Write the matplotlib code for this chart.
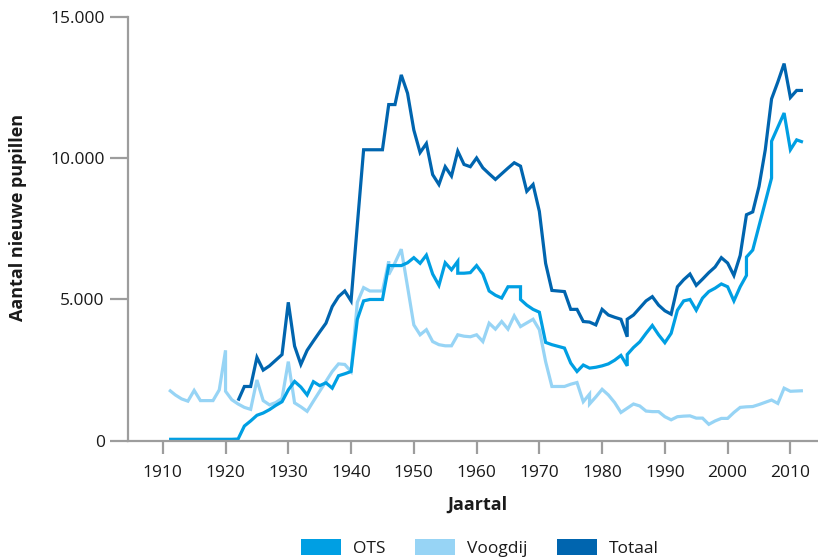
# -*- coding: utf-8 -*-

import matplotlib
matplotlib.use('Agg')
import matplotlib.pyplot as plt
from matplotlib.patches import Patch

plt.rcParams['font.family'] = ['Open Sans', 'DejaVu Sans']

# OTS (ondertoezichtstelling)
ots_years = [1911, 1912, 1913, 1914, 1915, 1916, 1917, 1918, 1919, 1920,
             1921, 1922, 1923, 1924, 1925, 1926, 1927, 1928, 1929, 1930,
             1931, 1932, 1933, 1934, 1935, 1936, 1937, 1938, 1939, 1940,
             1941, 1942, 1943, 1944, 1945, 1946, 1947, 1948, 1949, 1950,
             1951, 1952, 1953, 1954, 1955, 1956, 1957, 1957, 1958, 1959,
             1960, 1961, 1962, 1963, 1964, 1965, 1966, 1967, 1967, 1968,
             1969, 1970, 1971, 1972, 1973, 1974, 1975, 1976, 1977, 1978,
             1979, 1980, 1981, 1982, 1983, 1984, 1984, 1985, 1986, 1987,
             1988, 1989, 1990, 1991, 1992, 1993, 1994, 1995, 1996, 1997,
             1998, 1999, 2000, 2001, 2002, 2003, 2003, 2004, 2005, 2006,
             2007, 2007, 2008, 2009, 2010, 2011, 2012]
ots_values = [50, 50, 50, 50, 50, 50, 50, 50, 50, 50,
              50, 60, 520, 700, 900, 980, 1100, 1250, 1380, 1800,
              2100, 1900, 1620, 2090, 1950, 2050, 1860, 2300, 2370, 2450,
              4300, 4950, 5000, 5000, 5000, 6200, 6200, 6200, 6300, 6480,
              6280, 6570, 5900, 5500, 6300, 6050, 6350, 5930, 5930, 5950,
              6200, 5900, 5300, 5150, 5050, 5450, 5450, 5450, 5000, 4800,
              4650, 4550, 3480, 3400, 3340, 3280, 2750, 2450, 2680, 2570,
              2600, 2650, 2720, 2850, 3020, 2650, 3050, 3300, 3500, 3800,
              4080, 3750, 3470, 3800, 4620, 4950, 5000, 4620, 5050, 5280,
              5400, 5550, 5450, 4950, 5450, 5850, 6500, 6750, 7600, 8450,
              9300, 10600, 11100, 11600, 10300, 10650, 10570]

# Voogdij
voogdij_years = [1911, 1912, 1913, 1914, 1915, 1916, 1917, 1918, 1919, 1920,
                 1920, 1921, 1922, 1923, 1924, 1925, 1926, 1927, 1928, 1929,
                 1930, 1931, 1932, 1933, 1934, 1935, 1936, 1937, 1938, 1939,
                 1940, 1941, 1942, 1943, 1944, 1945, 1946, 1946, 1947, 1948,
                 1949, 1950, 1951, 1952, 1953, 1954, 1955, 1956, 1957, 1958,
                 1959, 1960, 1961, 1962, 1963, 1964, 1965, 1966, 1967, 1968,
                 1969, 1970, 1971, 1972, 1973, 1974, 1975, 1976, 1977, 1978,
                 1978, 1979, 1980, 1981, 1982, 1983, 1984, 1985, 1986, 1987,
                 1988, 1989, 1990, 1991, 1992, 1993, 1994, 1995, 1996, 1997,
                 1998, 1999, 2000, 2001, 2002, 2003, 2004, 2005, 2006, 2007,
                 2008, 2009, 2010, 2011, 2012]
voogdij_values = [1800, 1620, 1480, 1400, 1780, 1420, 1420, 1420, 1800, 3200,
                  1750, 1450, 1300, 1180, 1110, 2150, 1420, 1270, 1350, 1500,
                  2800, 1340, 1200, 1040, 1400, 1750, 2100, 2450, 2720, 2700,
                  2450, 4900, 5420, 5300, 5300, 5300, 6350, 5880, 6300, 6780,
                  5450, 4100, 3750, 3930, 3510, 3400, 3360, 3360, 3750, 3700,
                  3680, 3750, 3510, 4160, 3950, 4220, 3950, 4420, 4040, 4170,
                  4300, 3930, 2800, 1920, 1920, 1920, 2000, 2060, 1380, 1650,
                  1300, 1550, 1820, 1620, 1350, 1000, 1150, 1300, 1230, 1050,
                  1030, 1030, 850, 740, 850, 870, 880, 800, 800, 580,
                  700, 790, 790, 1000, 1180, 1200, 1210, 1280, 1360, 1440,
                  1320, 1860, 1750, 1760, 1770]

# Totaal
totaal_years = [1922, 1923, 1924, 1925, 1926, 1927, 1928, 1929, 1930, 1931,
                1932, 1933, 1934, 1935, 1936, 1937, 1938, 1939, 1940, 1941,
                1942, 1943, 1944, 1945, 1946, 1947, 1948, 1949, 1950, 1951,
                1952, 1953, 1954, 1955, 1956, 1957, 1958, 1959, 1960, 1961,
                1962, 1963, 1964, 1965, 1966, 1967, 1968, 1969, 1970, 1971,
                1972, 1973, 1974, 1975, 1976, 1977, 1978, 1979, 1980, 1981,
                1982, 1983, 1984, 1984, 1985, 1986, 1987, 1988, 1989, 1990,
                1991, 1992, 1993, 1994, 1995, 1996, 1997, 1998, 1999, 2000,
                2001, 2002, 2003, 2004, 2005, 2006, 2007, 2008, 2009, 2010,
                2011, 2012]
totaal_values = [1420, 1920, 1920, 2950, 2500, 2650, 2850, 3050, 4900, 3350,
                 2700, 3200, 3530, 3850, 4160, 4750, 5100, 5300, 4950, 7650,
                 10300, 10300, 10300, 10300, 11900, 11900, 12950, 12300, 11000, 10200,
                 10520, 9420, 9070, 9700, 9370, 10250, 9780, 9700, 10010, 9660,
                 9450, 9250, 9450, 9650, 9840, 9720, 8830, 9070, 8120, 6280,
                 5320, 5300, 5280, 4650, 4650, 4220, 4200, 4100, 4650, 4450,
                 4370, 4300, 3680, 4300, 4450, 4700, 4950, 5100, 4800, 4600,
                 4480, 5450, 5700, 5900, 5500, 5720, 5950, 6150, 6480, 6290,
                 5850, 6560, 8000, 8100, 9000, 10300, 12100, 12700, 13350, 12150,
                 12400, 12400]

x_ticks = [1910, 1920, 1930, 1940, 1950, 1960, 1970, 1980, 1990, 2000, 2010]
y_ticks = [0, 5000, 10000, 15000]
y_tick_labels = ['0', '5.000', '10.000', '15.000']

c_ots = '#009fe3'
c_voogdij = '#97d4f5'
c_totaal = '#0065af'
grey = '#9d9d9d'

fig = plt.figure(figsize=(8.18, 5.59), dpi=100)
ax = fig.add_axes([0.1568, 0.2116, 0.8432, 0.758])

line_kw = dict(linewidth=2.3, solid_joinstyle='miter', solid_capstyle='butt')
ax.plot(voogdij_years, voogdij_values, color=c_voogdij, **line_kw)
ax.plot(ots_years, ots_values, color=c_ots, **line_kw)
ax.plot(totaal_years, totaal_values, color=c_totaal, **line_kw)

ax.set_xlim(1904.5, 2014.4)
ax.set_ylim(0, 15000)
ax.set_xticks(x_ticks)
ax.set_yticks(y_ticks)
ax.set_yticklabels(y_tick_labels)

for side in ['top', 'right']:
    ax.spines[side].set_visible(False)
for side in ['left', 'bottom']:
    ax.spines[side].set_color(grey)
    ax.spines[side].set_linewidth(1.6)

ax.tick_params(axis='y', length=13, width=1.6, color=grey, pad=4,
               labelsize=12.5, labelcolor='#1a1a1a')
ax.tick_params(axis='x', length=9.5, width=1.6, color=grey, pad=8,
               labelsize=12.5, labelcolor='#1a1a1a')

# axis titles
fig.text(18 / 818, 1 - 217 / 559, 'Aantal nieuwe pupillen', rotation=90,
         ha='center', va='center', fontsize=13, fontweight='bold', color='#1a1a1a')
fig.text(477 / 818, 1 - 505 / 559, 'Jaartal', ha='center', va='center',
         fontsize=13, fontweight='bold', color='#1a1a1a')

# legend
handles = [Patch(facecolor=c_ots, edgecolor='none', label='OTS'),
           Patch(facecolor=c_voogdij, edgecolor='none', label='Voogdij'),
           Patch(facecolor=c_totaal, edgecolor='none', label='Totaal')]
fig.legend(handles=handles, loc='center', bbox_to_anchor=(480 / 818, 1 - 548 / 559),
           ncol=3, frameon=False, fontsize=12.5, handlelength=2.3, handleheight=1.0,
           handletextpad=0.7, columnspacing=1.7, labelcolor='#1a1a1a')

plt.savefig('out.png', dpi=100)
